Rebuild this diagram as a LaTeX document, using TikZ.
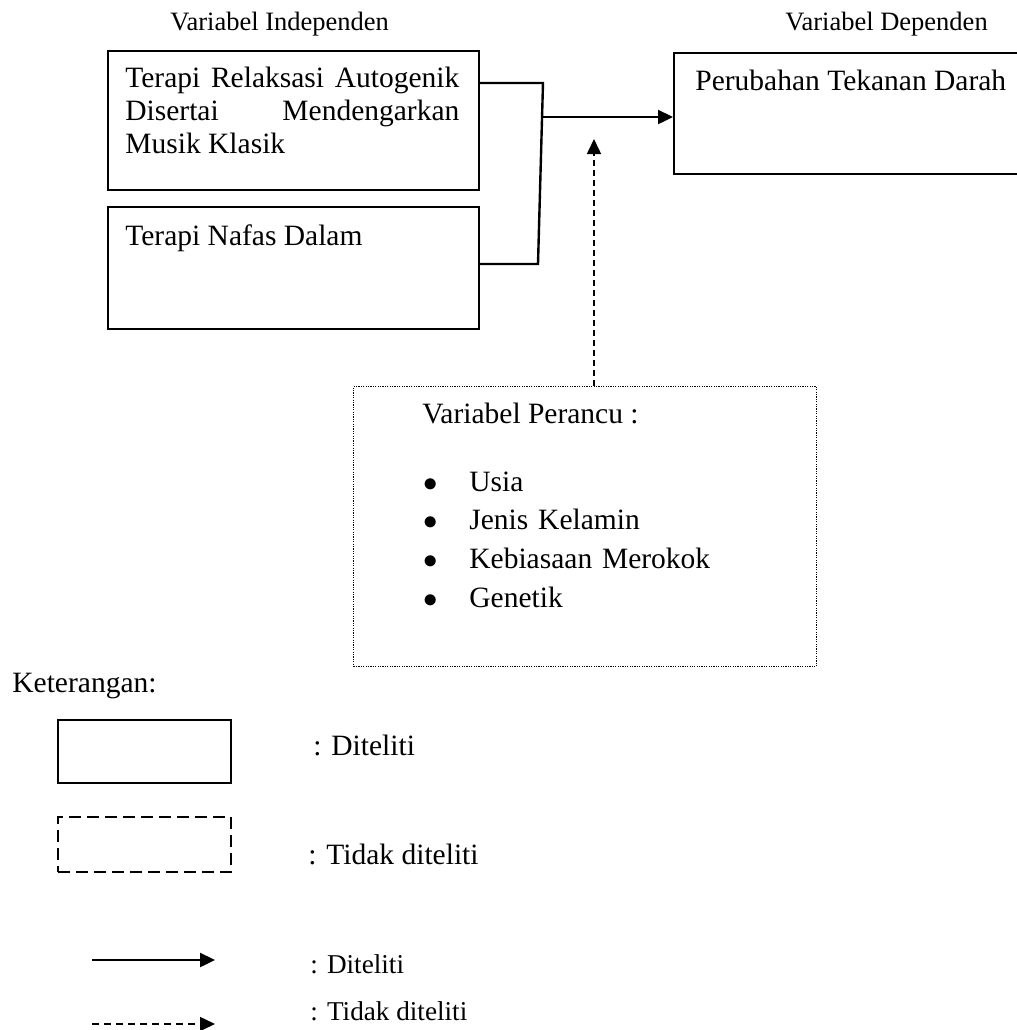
\documentclass[tikz,border=0pt]{standalone}
\usepackage{fontspec}
\setmainfont{Liberation Serif}
\usetikzlibrary{arrows.meta,calc,positioning}

\begin{document}
\begin{tikzpicture}[x=0.5pt,y=-0.5pt,
    every node/.style={inner sep=0pt},
    txt/.style={font=\fontsize{14.75}{16.5}\selectfont, anchor=base west},
    hdr/.style={font=\fontsize{13.25}{15}\selectfont, anchor=base west},
    kecil/.style={font=\fontsize{13.6}{15}\selectfont, anchor=base west},
    kotak/.style={draw, line width=1pt, anchor=north west},
    titik/.style={dash pattern=on 0.6pt off 0.6pt, line width=0.5pt},
    putus/.style={dash pattern=on 6pt off 3pt},
    garis/.style={line width=1.2pt},
    panah/.style={line width=1.2pt, -{Triangle[length=7.5pt,width=7pt]}},
    panahputus/.style={line width=0.8pt, dash pattern=on 3pt off 2pt, -{Triangle[length=7.5pt,width=7pt]}}]
  \def\px{0.5pt}
  \def\butir{\makebox[23pt][l]{$\bullet$}}
  \useasboundingbox (0,0) rectangle (1017,1030);

  % judul kolom
  \node[hdr] (hdrInd) at (170,30) {Variabel Independen};
  \node[hdr] (hdrDep) at (785,30) {Variabel Dependen};

  % kotak variabel
  \node[kotak, minimum width=371*\px, minimum height=139*\px] (relaksasi) at (107,50) {};
  \node[kotak, minimum width=371*\px, minimum height=122*\px] (nafas) at (107,206) {};
  \node[kotak, minimum width=360*\px, minimum height=121*\px] (tekanan) at (673,52) {};
  \node[kotak, titik, minimum width=463*\px, minimum height=280*\px] (perancu) at (353,386) {};

  % isi kotak
  \node[txt, text width=167pt, align=justify] (relaksasiTxt) at (125,87)
    {Terapi Relaksasi Autogenik\linebreak Disertai Mendengarkan\linebreak Musik Klasik};
  \node[txt] (nafasTxt) at (125,245) {Terapi Nafas Dalam};
  \node[txt] (tekananTxt) at (695,90) {Perubahan Tekanan Darah};
  \node[txt] (perancuJudul) at (422,423) {Variabel Perancu :};
  \node[txt, text width=150pt, font=\fontsize{14.75}{19.35}\selectfont] (perancuList) at (423,491)
    {\butir Usia\\
     \butir Jenis Kelamin\\
     \butir Kebiasaan Merokok\\
     \butir Genetik};

  % garis penghubung
  \coordinate (siku1) at (543,83);
  \coordinate (siku2) at (538,264);
  \coordinate (cabang) at (543,117);
  \coordinate (ujung) at (594,139);
  \draw[garis] (relaksasi.east |- siku1) -- (siku1) -- (siku2) -- (nafas.east |- siku2);
  \draw[panah] (cabang) -- (cabang -| tekanan.west);
  \draw[panahputus] (perancu.north -| ujung) -- (ujung);

  % keterangan
  \node[txt] (ket) at (12,692) {Keterangan:};
  \node[kotak, minimum width=173*\px, minimum height=63*\px] (ketKotak) at (57,719) {};
  \node[kotak, putus, minimum width=173*\px, minimum height=55*\px] (ketPutus) at (57,816) {};
  \node[txt] (ketKotakTxt) at (313,755) {: Diteliti};
  \node[txt] (ketPutusTxt) at (308,864) {: Tidak diteliti};
  \coordinate (a1) at (92,960);
  \coordinate (a2) at (215,960);
  \coordinate (b1) at (92,1024);
  \coordinate (b2) at (215,1024);
  \draw[panah] (a1) -- (a2);
  \draw[panahputus, dash pattern=on 3.5pt off 2.5pt] (b1) -- (b2);
  \node[kecil] (ketPanahTxt) at (310,973) {: Diteliti};
  \node[kecil] (ketPutusPanahTxt) at (310,1020) {: Tidak diteliti};
\end{tikzpicture}
\end{document}
